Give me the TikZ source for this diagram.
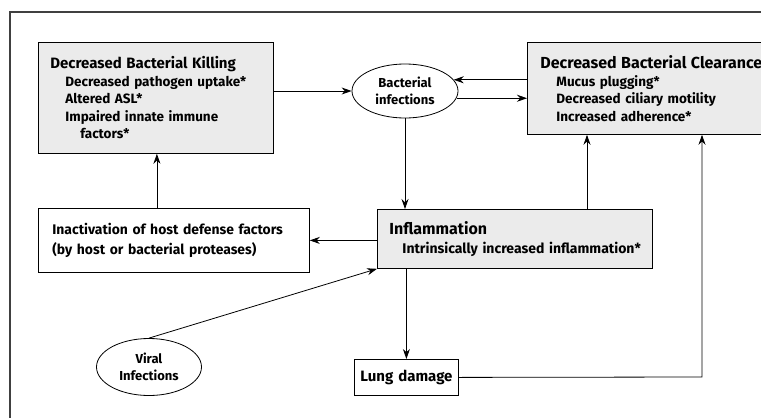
\documentclass[tikz,border=0pt]{standalone}
\usepackage{fontspec}
\setmainfont{Fira Sans}
\usetikzlibrary{shapes,arrows.meta,positioning}
\newcommand{\head}[2][15]{\mbox{\fontsize{#1}{16}\selectfont #2}}
\newcommand{\sub}[2][15pt]{\\\hspace*{#1}\mbox{#2}}

\begin{document}
\begin{tikzpicture}[x=1pt,y=-1pt,line width=0.8pt,
  font=\bfseries\fontsize{13.9}{19.5}\selectfont,
  factor/.style={draw,fill=black!8,anchor=north west,align=left,inner ysep=0pt,
    font=\bfseries\fontsize{13.5}{17.5}\selectfont},
  plain/.style={draw,fill=white,anchor=north west,align=left,inner ysep=0pt},
  infection/.style={draw,ellipse,fill=white,align=center,inner sep=0pt,
    font=\bfseries\fontsize{13}{17}\selectfont},
  arr/.style={-{Stealth[length=10pt,width=7pt]}}]
\useasboundingbox (0,0) rectangle (761,418);
\clip (0,0) rectangle (761,418);

% frame
\draw[black!75,line width=1.1pt] (10,418) -- (10,12) -- (761,12);

% boxes
\node[factor,minimum width=235pt,minimum height=111pt,text width=211pt,inner xsep=12pt]
  (killing) at (38,42) {\head{Decreased Bacterial Killing}
  \sub{Decreased pathogen uptake*}\sub{Altered ASL*}
  \sub{Impaired innate immune}\sub[30pt]{factors*}};
\node[factor,minimum width=240pt,minimum height=92pt,text width=226pt,inner xsep=7pt]
  (clearance) at (527,42) {\hspace*{6pt}\head[16]{Decreased Bacterial Clearance}
  \sub[22pt]{Mucus plugging*}\sub[22pt]{Decreased ciliary motility}
  \sub[22pt]{Increased adherence*}};
\node[factor,minimum width=275pt,minimum height=59pt,text width=255pt,inner xsep=10pt,
  font=\bfseries\fontsize{14}{19}\selectfont]
  (inflam) at (377,209) {\hspace*{2pt}\head[16]{Inflammation}
  \sub[15pt]{Intrinsically increased inflammation*}};
\node[plain,minimum width=257pt,minimum height=64pt,text width=243pt,inner xsep=14pt]
  (inact) at (38,208) {Inactivation of host defense factors\\(by host or bacterial proteases)};
\node[plain,minimum width=104pt,minimum height=36pt,align=center,text width=102pt,inner xsep=1pt,
  font=\bfseries\fontsize{15}{18}\selectfont]
  (lung) at (354,359) {Lung damage};

% infections
\node[infection,minimum width=106pt,minimum height=54pt] (bact) at (405,91) {Bacterial\\infections};
\node[infection,minimum width=105pt,minimum height=57pt] (viral) at (149,367) {Viral\\Infections};

\coordinate (up) at (587,209);
\coordinate (turn) at (702,377);

% arrows
\draw[arr] (killing.east |- bact.west) -- (bact.west);
\draw[arr] (bact.13 -| clearance.west) -- (bact.13);
\draw[arr] (bact.-8) -- (bact.-8 -| clearance.west);
\draw[arr] (bact.south) -- (bact.south |- inflam.north);
\draw[arr] (up) -- (up |- clearance.south);
\draw[arr] (lung.east) -- (turn) -- (turn |- clearance.south);
\draw[arr] (inflam.west |- inact.east) -- (inact.east);
\draw[arr] ([xshift=-17pt]inact.north) -- ([xshift=-17pt]inact.north |- killing.south);
\draw[arr] (viral.north) -- (inflam.south west);
\draw[arr] (lung.north |- inflam.south) -- (lung.north);
\end{tikzpicture}
\end{document}
